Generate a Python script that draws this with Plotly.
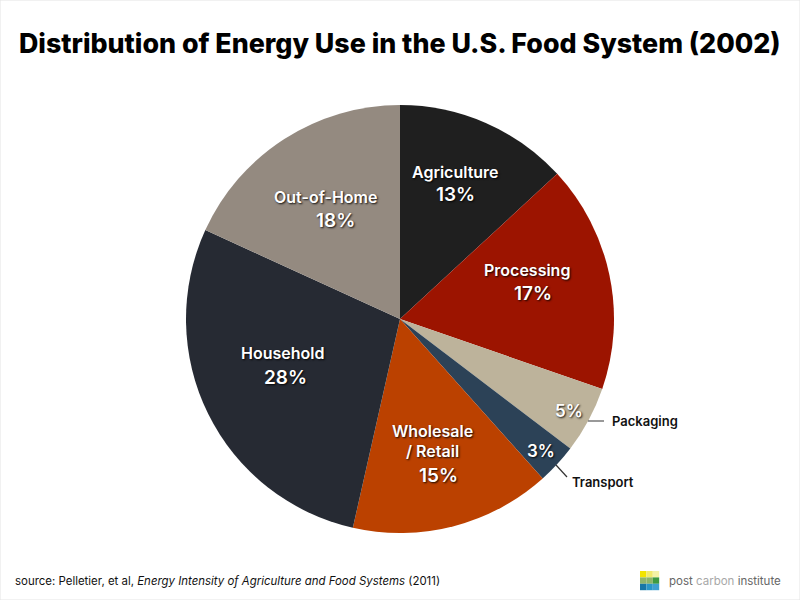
import plotly.graph_objects as go

categories = ["Agriculture", "Processing", "Packaging", "Transport", "Wholesale / Retail", "Household", "Out-of-Home"]
values = [13, 17, 5, 3, 15, 28, 18]
colors = ["#1f1f1f", "#9c1400", "#bdb39b", "#2c4257", "#bb4100", "#262a33", "#948a80"]
title_text = "Distribution of Energy Use in the U.S. Food System (2002)"
source_text = "source: Pelletier, et al, <i>Energy Intensity of Agriculture and Food Systems</i> (2011)"
logo_colors = [["#f2e400", "#f1ea6c", "#f5f2a6"],
               ["#8fb56c", "#8db568", "#3f9a40"],
               ["#1777a6", "#2a97c6", "#3fa0cf"]]
FONT = "Inter"
SHADOW = "1px 1px 2px rgba(0,0,0,0.9)"

W, H = 800, 600
fig = go.Figure(go.Pie(
    labels=categories, values=values, sort=False, direction="clockwise", rotation=0,
    marker=dict(colors=colors, line=dict(width=0)),
    textinfo="none", hoverinfo="label+percent", showlegend=False,
    domain=dict(x=[186/W, 614/W], y=[(H-533)/H, (H-105)/H]),
))

def note(x, y, text, size, color="#000000", weight=None, shadow=None, anchor="center"):
    font = dict(family=FONT, size=size, color=color)
    if weight: font["weight"] = weight
    if shadow: font["shadow"] = shadow
    fig.add_annotation(x=x/W, y=1-y/H, xref="paper", yref="paper", text=text, showarrow=False,
                       font=font, xanchor=anchor, yanchor="middle", align="center")

note(400, 43, title_text, 26.8, weight=800)
inner = [(455, 172, "Agriculture", 16), (455, 195, "13%", 19),
         (527, 270, "Processing", 16), (533, 293, "17%", 19),
         (569, 411, "5%", 17), (541, 451, "3%", 17),
         (432, 431, "Wholesale", 16), (432, 451, "/ Retail", 16), (439, 475, "15%", 19),
         (282, 353, "Household", 16), (285, 377, "28%", 19),
         (325, 197, "Out-of-Home", 16), (335, 220, "18%", 19)]
for x, y, t, s in inner:
    note(x, y, t, s, color="#ffffff", weight=600, shadow=SHADOW)
note(610, 421, "Packaging", 13, color="#111111", weight=600, anchor="left")
note(570, 482, "Transport", 13, color="#111111", weight=600, anchor="left")
note(13, 581, source_text, 11.45, color="#111111", anchor="left")
note(667, 581, "post <span style='color:#a8a8a8'>carbon</span> institute", 11.5, color="#666666", anchor="left")

def paper_line(x0, y0, x1, y1, color):
    fig.add_shape(type="line", xref="paper", yref="paper", x0=x0/W, x1=x1/W, y0=1-y0/H, y1=1-y1/H,
                  line=dict(color=color, width=1.2))
paper_line(588, 421, 604, 421, "#555555")
paper_line(556, 465, 567, 477, "#333333")

for r, row in enumerate(logo_colors):
    for c, col in enumerate(row):
        fig.add_shape(type="rect", xref="paper", yref="paper", line=dict(width=0), fillcolor=col,
                      x0=(640+c*6.4)/W, x1=(640+(c+1)*6.4)/W,
                      y0=1-(571+r*6.4)/H, y1=1-(571+(r+1)*6.4)/H)
fig.add_shape(type="rect", xref="paper", yref="paper", x0=0, x1=1, y0=0, y1=1,
              line=dict(color="#e4e4e4", width=1))

fig.update_layout(width=W, height=H, margin=dict(l=0, r=0, t=0, b=0),
                  paper_bgcolor="#ffffff", font=dict(family=FONT))
fig.write_html("out.html", config={"displayModeBar": False}, post_script="document.body.style.margin='0';")
